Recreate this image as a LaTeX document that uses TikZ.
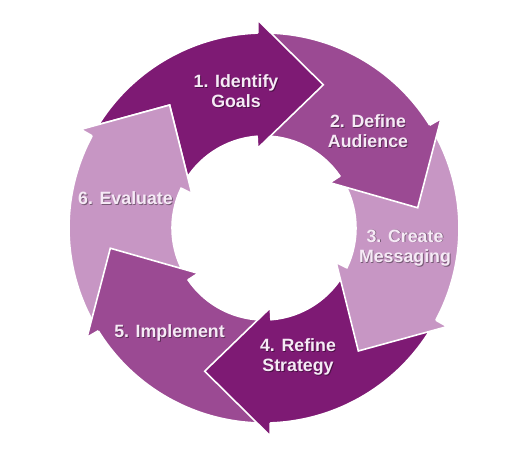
\documentclass[tikz,border=0pt]{standalone}
\usepackage{fontspec}
\setmainfont{Liberation Sans}
\usetikzlibrary{calc}
\definecolor{CycleDark}{RGB}{126,26,116}
\definecolor{CycleMid}{RGB}{155,74,147}
\definecolor{CycleLight}{RGB}{199,150,196}
\definecolor{CycleText}{RGB}{246,234,246}
\tikzset{
  steptext/.style={font=\bfseries\fontsize{17.8}{20.5}\selectfont,align=center,text=CycleText,inner sep=0pt},
  stepshadow/.style={steptext,text=black,opacity=0.4,xshift=0.9pt,yshift=-0.9pt},
  stepedge/.style={white,line width=1.6pt,line join=miter}
}
\begin{document}
\begin{tikzpicture}[x=1pt,y=1pt]
\useasboundingbox (-264,-228) rectangle (256,228);
\def\rin{92}\def\rout{195}\def\rbi{80}\def\rbo{208}\def\rtip{155}
% ring pieces, tail cut sits under the previous head
\foreach \k/\col in {1/CycleDark,2/CycleMid,3/CycleLight,4/CycleDark,5/CycleMid,6/CycleLight}{
  \pgfmathsetmacro\b{93-60*(\k-1)}
  \pgfmathsetmacro\ta{\b+60-1.2-2}
  \pgfmathsetmacro\tb{\b+60+1.3-2}
  \pgfmathsetmacro\bo{\b-1.2}
  \pgfmathsetmacro\bi{\b+1.3}
  \pgfmathsetmacro\p{\b-25.5}
  \fill[\col,draw=white,line width=1.6pt]
    (\ta:\rout) arc[start angle=\ta,end angle=\bo,radius=\rout]
    -- (\b-1.3:\rbo) -- (\p:\rtip) -- (\b+1.5:\rbi) -- (\bi:\rin)
    arc[start angle=\bi,end angle=\tb,radius=\rin] -- cycle;
}
% heads again, on top of the next tail
\foreach \k/\col in {1/CycleDark,2/CycleMid,3/CycleLight,4/CycleDark,5/CycleMid,6/CycleLight}{
  \pgfmathsetmacro\b{93-60*(\k-1)}
  \pgfmathsetmacro\p{\b-25.5}
  \fill[\col] (\b-1.3:\rbo) -- (\p:\rtip) -- (\b+1.5:\rbi) -- cycle;
  \draw[stepedge] (\b-1.2:\rout) -- (\b-1.3:\rbo) -- (\p:\rtip) -- (\b+1.5:\rbi) -- (\b+1.3:\rin);
}
% labels
\foreach \n/\x/\y/\txt in {1/-28/137/{1. Identify\\Goals},2/104/97/{2. Define\\Audience},
  3/141/-20/{3. Create\\Messaging},4/34/-129/{4. Refine\\Strategy},
  5/-94.5/-105/{5. Implement},6/-138.5/30/{6. Evaluate}}{
  \node[stepshadow] (sh\n) at (\x,\y) {\txt};
  \node[steptext] (st\n) at (\x,\y) {\txt};
}
\end{tikzpicture}
\end{document}
